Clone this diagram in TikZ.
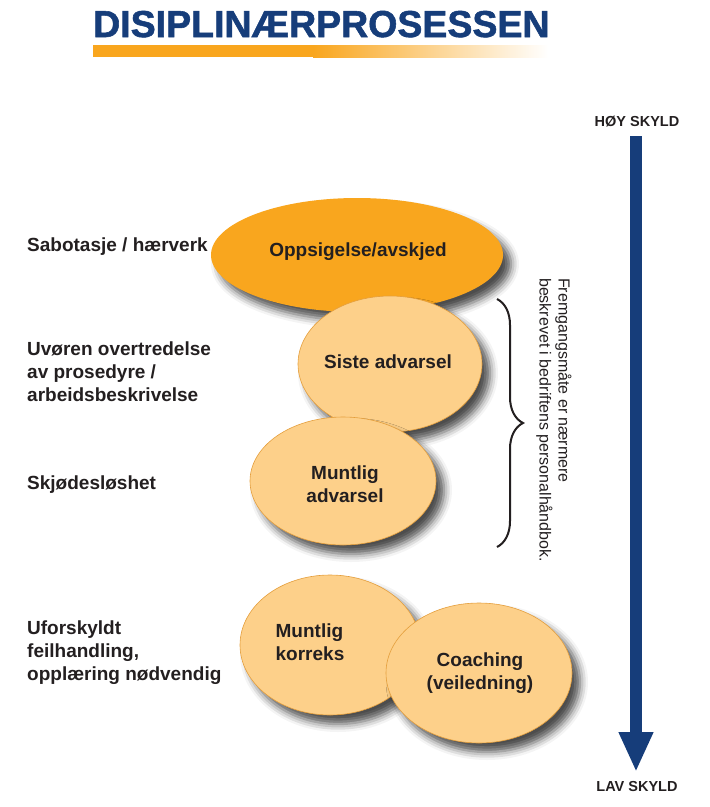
\documentclass[tikz,border=0pt]{standalone}
\usepackage{fontspec}
\setmainfont{Liberation Sans}
\newfontfamily\titlefont[FakeBold=1.5]{Liberation Sans Bold}
\usetikzlibrary{shapes.geometric,shadows.blur,decorations.pathreplacing,arrows.meta}
\definecolor{navy}{RGB}{22,61,122}
\definecolor{dorange}{RGB}{249,166,30}
\definecolor{lorange}{RGB}{253,208,138}
\definecolor{oedge}{RGB}{228,158,60}
\definecolor{txt}{RGB}{35,31,32}
\tikzset{
  lab/.style={font=\bfseries\fontsize{19}{23}\selectfont, text=txt, align=left, anchor=north west, inner sep=0},
  ell/.style={ellipse, draw=oedge, line width=0.6pt, fill=lorange, inner sep=0,
    blur shadow={shadow xshift=8pt, shadow yshift=-9pt, shadow blur radius=8pt, shadow opacity=70}},
  etext/.style={font=\bfseries\fontsize{19}{23}\selectfont, text=txt, align=center, inner sep=0},
  side/.style={font=\bfseries\fontsize{14.5}{16}\selectfont, text=txt, inner sep=0},
}
\begin{document}
\begin{tikzpicture}[x=1pt,y=-1pt]
\useasboundingbox (0,0) rectangle (710,807);
% title
\node[anchor=base west, inner sep=0, text=navy, font=\titlefont\fontsize{37.5}{40}\selectfont] (title) at (93,37) {DISIPLINÆRPROSESSEN};
\fill[dorange] (93,45) rectangle (313,57);
\shade[left color=dorange, right color=white] (313,45) rectangle (548,57);
% left labels
\node[lab] (l1) at (27,238) {Sabotasje / hærverk};
\node[lab] (l2) at (27,342) {Uvøren overtredelse\\av prosedyre /\\arbeidsbeskrivelse};
\node[lab] (l3) at (27,476) {Skjødesløshet};
\node[lab] (l4) at (27,621) {Uforskyldt\\feilhandling,\\opplæring nødvendig};
% ellipses
\node[ell, draw=none, fill=dorange, minimum width=292pt, minimum height=114pt] (e1) at (357,255) {};
\node[etext] (t1) at (358,252) {Oppsigelse/avskjed};
\node[ell, minimum width=184pt, minimum height=136pt] (e2) at (390,364) {};
\node[etext] (t2) at (388,362) {Siste advarsel};
\node[ell, minimum width=186pt, minimum height=128pt] (e3) at (343,481) {};
\node[etext] (t3) at (345,484) {Muntlig\\advarsel};
\node[ell, minimum width=180pt, minimum height=140pt] (e4) at (330,645) {};
\node[etext, align=left] (t4) at (310,642) {Muntlig\\korreks};
\node[ell, minimum width=186pt, minimum height=140pt] (e5) at (479,673) {};
\node[etext] (t5) at (480,673) {Coaching\\(veiledning)};
% brace and note
\coordinate (b1) at (497,299);
\coordinate (b2) at (497,547);
\draw[txt, line width=2pt, decorate, decoration={brace, amplitude=26pt}] (b1) -- (b2);
\node[rotate=-90, anchor=west, inner sep=0, align=left, text=txt, font=\fontsize{16}{19}\selectfont] (note) at (554,278) {Fremgangsmåte er nærmere\\beskrevet i bedriftens personalhåndbok.};
% guilt arrow
\node[side] (hoy) at (637,122) {HØY SKYLD};
\node[side] (lav) at (637,786) {LAV SKYLD};
\coordinate (atop) at (636,136);
\coordinate (abot) at (636,772);
\draw[navy, line width=12pt, -{Triangle[width=32pt,length=40pt]}] (atop) -- (abot);
\end{tikzpicture}
\end{document}
